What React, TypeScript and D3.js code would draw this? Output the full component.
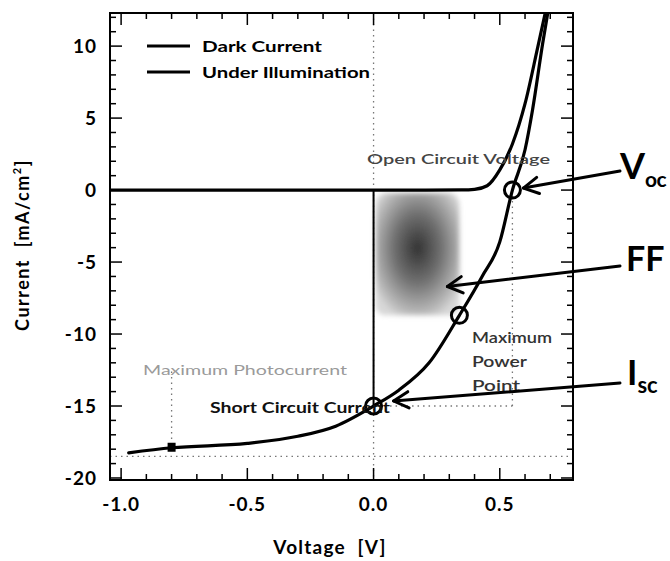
import React from "react";
import * as d3 from "d3";

// J–V characteristics of a solar cell (voltage in V, current density in mA/cm²)
const darkV = [-1.04, -0.5, 0.0, 0.2, 0.35, 0.4, 0.45, 0.5, 0.55, 0.6, 0.65, 0.68];
const darkI = [0, 0, 0, 0, 0.01, 0.05, 0.3, 1.4, 3.2, 6.0, 9.9, 12.3];

const lightV = [-0.97, -0.8, -0.5, -0.3, -0.15, 0.0, 0.1, 0.22, 0.34, 0.43, 0.5, 0.55, 0.6, 0.63, 0.67, 0.69];
const lightI = [-18.25, -17.9, -17.6, -17.1, -16.4, -15.0, -13.9, -12.0, -8.7, -6.0, -3.6, 0, 2.8, 5.6, 10.2, 12.3];

// Characteristic points
const vOC = 0.55;
const iSC = -15.0;
const mppV = 0.34;
const mppI = -8.7;
const photoV = -0.8;
const photoLevel = -18.5;

const legendLabels = ["Dark Current", "Under Illumination"];
const xTickValues = [-1.0, -0.5, 0.0, 0.5];
const xTickLabels = ["-1.0", "-0.5", "0.0", "0.5"];
const yTickValues = [-20, -15, -10, -5, 0, 5, 10];
const yTickLabels = ["-20", "-15", "-10", "-5", "0", "5", "10"];

const W = 670;
const H = 561;
const L = 110, R = 573, T = 13, B = 480;
const FONT = "Lato, 'Open Sans', 'DejaVu Sans', sans-serif";

const x = d3.scaleLinear().domain([-1.044, 0.79]).range([L, R]);
const y = d3.scaleLinear().domain([-20.14, 12.3]).range([B, T]);

const toPts = (vs: number[], is: number[]) => vs.map((v, i) => [v, is[i]] as [number, number]);
const darkPts = toPts(darkV, darkI);
const lightPts = toPts(lightV, lightI);

const line = d3
  .line<[number, number]>()
  .x((d) => x(d[0]))
  .y((d) => y(d[1]))
  .curve(d3.curveMonotoneX);

// current on the illuminated curve at a given voltage
const lightAt = (v: number) => {
  const i = d3.bisectLeft(lightV, v);
  if (i <= 0) return lightI[0];
  const t = (v - lightV[i - 1]) / (lightV[i] - lightV[i - 1]);
  return lightI[i - 1] + t * (lightI[i] - lightI[i - 1]);
};

function Arrow({ x1, y1, x2, y2 }: { x1: number; y1: number; x2: number; y2: number }) {
  const a = Math.atan2(y1 - y2, x1 - x2);
  const len = 17;
  const spread = 0.5;
  const p1 = [x2 + len * Math.cos(a + spread), y2 + len * Math.sin(a + spread)];
  const p2 = [x2 + len * Math.cos(a - spread), y2 + len * Math.sin(a - spread)];
  return (
    <g stroke="#000" strokeWidth={3} strokeLinecap="round" fill="none">
      <line x1={x1} y1={y1} x2={x2} y2={y2} />
      <polyline points={`${p1[0]},${p1[1]} ${x2},${y2} ${p2[0]},${p2[1]}`} strokeLinejoin="round" />
    </g>
  );
}

export default function App() {
  const xMinor = d3.range(-10, 8).map((i) => i / 10);
  const yMinor = d3.range(-20, 13);
  const majorLen = 12;
  const minorLen = 6;
  const dotted = { stroke: "#777", strokeWidth: 1.3, strokeDasharray: "1.5 4" };

  const ox = x(0), oy = y(0);
  const mx = x(mppV), my = y(mppI);
  const vx = x(vOC);
  const sy = y(iSC);

  return (
    <svg
      width={W}
      height={H}
      style={{ position: "absolute", left: 0, top: 0, background: "#fff" }}
      fontFamily={FONT}
    >
      <defs>
        <clipPath id="plotArea">
          <rect x={L} y={T} width={R - L} height={B - T} />
        </clipPath>
        <radialGradient id="ffFill" cx="0.5" cy="0.45" r="0.62">
          <stop offset="0" stopColor="#333" />
          <stop offset="0.45" stopColor="#707070" />
          <stop offset="0.85" stopColor="#b8b8b8" />
          <stop offset="1" stopColor="#d8d8d8" />
        </radialGradient>
        <filter id="soft" x="-10%" y="-10%" width="120%" height="120%">
          <feGaussianBlur stdDeviation="2.5" />
        </filter>
      </defs>

      {/* fill-factor area: origin to maximum power point */}
      <rect
        x={ox + 2}
        y={oy + 3}
        width={mx - ox - 2}
        height={my - oy - 3}
        rx={10}
        fill="url(#ffFill)"
        filter="url(#soft)"
      />

      {/* guide lines */}
      <line x1={ox} x2={ox} y1={T} y2={B} {...dotted} />
      <line x1={L} x2={R} y1={y(photoLevel)} y2={y(photoLevel)} {...dotted} />
      <line x1={vx} x2={vx} y1={oy} y2={sy} {...dotted} />
      <line x1={ox} x2={vx} y1={sy} y2={sy} {...dotted} />
      <line x1={x(photoV)} x2={x(photoV)} y1={y(-12.6)} y2={y(lightAt(photoV))} {...dotted} />
      <line x1={ox} x2={ox} y1={oy} y2={sy} stroke="#000" strokeWidth={2} />

      {/* curves */}
      <g clipPath="url(#plotArea)" fill="none" stroke="#000" strokeWidth={3.2} strokeLinecap="round">
        <path d={line(darkPts) ?? ""} />
        <path d={line(lightPts) ?? ""} />
      </g>

      {/* characteristic points */}
      {[
        [vOC, 0],
        [mppV, mppI],
        [0, iSC],
      ].map(([v, i], k) => (
        <circle key={k} cx={x(v)} cy={y(i)} r={8} fill="none" stroke="#000" strokeWidth={3} />
      ))}
      <rect x={x(photoV) - 4} y={y(lightAt(photoV)) - 5} width={8} height={9} fill="#000" />

      {/* frame and ticks */}
      <rect x={L} y={T} width={R - L} height={B - T} fill="none" stroke="#000" strokeWidth={2} />
      <g stroke="#000" strokeWidth={1.5}>
        {xMinor.map((v, k) => {
          const len = Math.abs(Math.round(v * 10)) % 5 === 0 ? majorLen : minorLen;
          return (
            <g key={`xt${k}`}>
              <line x1={x(v)} x2={x(v)} y1={B} y2={B - len} />
              <line x1={x(v)} x2={x(v)} y1={T} y2={T + len} />
            </g>
          );
        })}
        {yMinor.map((v, k) => {
          const len = v % 5 === 0 ? majorLen : minorLen;
          return (
            <g key={`yt${k}`}>
              <line x1={L} x2={L + len} y1={y(v)} y2={y(v)} />
              <line x1={R} x2={R - len} y1={y(v)} y2={y(v)} />
            </g>
          );
        })}
      </g>

      {/* tick labels */}
      <g fontSize={19} fontWeight={700} fill="#000" letterSpacing={1}>
        {xTickValues.map((v, k) => (
          <text key={`xl${k}`} x={x(v)} y={511} textAnchor="middle">
            {xTickLabels[k]}
          </text>
        ))}
        {yTickValues.map((v, k) => (
          <text key={`yl${k}`} x={97} y={y(v) + 7} textAnchor="end">
            {yTickLabels[k]}
          </text>
        ))}
      </g>

      {/* axis titles */}
      <text x={330} y={554} textAnchor="middle" fontSize={19} fontWeight={700} letterSpacing={1.2}>
        Voltage&#160;&#160;[V]
      </text>
      <text
        transform="translate(29,245) rotate(-90)"
        textAnchor="middle"
        fontSize={18}
        fontWeight={700}
        letterSpacing={1.5}
      >
        Current&#160;&#160;[mA/cm
        <tspan fontSize={11} dy={-8}>2</tspan>
        <tspan dy={8}>]</tspan>
      </text>

      {/* legend */}
      {legendLabels.map((lab, k) => (
        <g key={`lg${k}`}>
          <line x1={147} x2={190} y1={46 + k * 26} y2={46 + k * 26} stroke="#000" strokeWidth={3.2} />
          <text x={202} y={52 + k * 26} fontSize={16} fontWeight={700} textLength={k === 0 ? 120 : 168} lengthAdjust="spacingAndGlyphs">
            {lab}
          </text>
        </g>
      ))}

      {/* annotations inside the plot */}
      <text x={367} y={164} fontSize={14} fill="#444" fontWeight={600} textLength={183} lengthAdjust="spacingAndGlyphs">
        Open Circuit Voltage
      </text>
      <text x={143} y={375} fontSize={14} fill="#9a9a9a" textLength={204} lengthAdjust="spacingAndGlyphs">
        Maximum Photocurrent
      </text>
      <text x={210} y={413} fontSize={15} fontWeight={700} fill="#111" textLength={180} lengthAdjust="spacingAndGlyphs">
        Short Circuit Current
      </text>
      <g fontSize={15} fill="#333" fontWeight={600}>
        <text x={472} y={343} textLength={80} lengthAdjust="spacingAndGlyphs">Maximum</text>
        <text x={472} y={367} textLength={55} lengthAdjust="spacingAndGlyphs">Power</text>
        <text x={472} y={391} textLength={48} lengthAdjust="spacingAndGlyphs">Point</text>
      </g>

      {/* labelled arrows */}
      <Arrow x1={620} y1={171} x2={vx + 11} y2={oy - 2} />
      <Arrow x1={620} y1={266} x2={mx - 12} y2={y(mppI * 0.77)} />
      <Arrow x1={620} y1={383} x2={ox + 20} y2={sy - 5} />

      <g fill="#000" fontWeight={700}>
        <text x={620} y={179} fontSize={36}>
          V<tspan fontSize={21} dy={8} letterSpacing={-0.5}>oc</tspan>
        </text>
        <text x={626} y={271} fontSize={34}>FF</text>
        <text x={627} y={385} fontSize={35}>
          I<tspan fontSize={22} dy={8}>sc</tspan>
        </text>
      </g>
    </svg>
  );
}
